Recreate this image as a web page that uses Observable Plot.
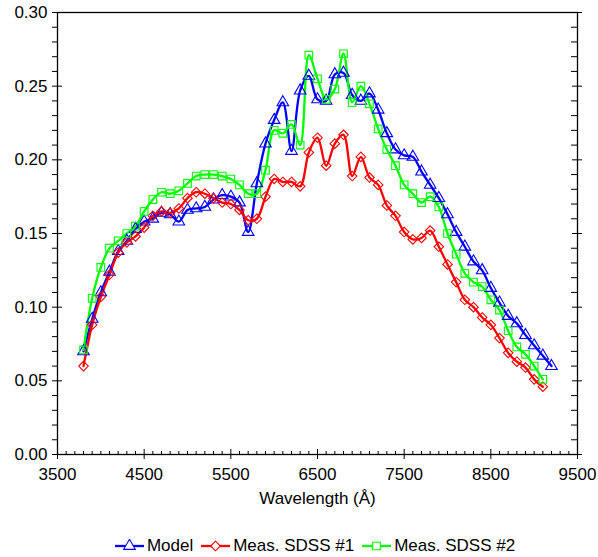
<!DOCTYPE html>
<html>
<head>
<meta charset="utf-8">
<script src="https://cdn.jsdelivr.net/npm/d3@7"></script>
<script src="https://cdn.jsdelivr.net/npm/@observablehq/plot@0.6"></script>
<style>
  html, body { margin: 0; padding: 0; background: #fff; }
  body { width: 598px; font-family: "Liberation Sans", Arial, sans-serif; }
  #legend { display: flex; justify-content: center; align-items: center; margin-top: 8px; padding-left: 32px; height: 20px; font-size: 17px; color: #000; }
  .item { display: flex; align-items: center; margin: 0 4px; }
  .item svg { margin-right: 3px; }
</style>
</head>
<body>
<div id="chart"></div>
<div id="legend"></div>
<script>
const modelWl = [3800,3900,4000,4100,4200,4300,4400,4500,4600,4700,4800,4900,5000,5100,5200,5300,5400,5500,5600,5700,5800,5900,6000,6100,6200,6300,6400,6500,6600,6700,6800,6900,7000,7100,7200,7300,7400,7500,7600,7700,7800,7900,8000,8100,8200,8300,8400,8500,8600,8700,8800,8900,9000,9100,9200];
const modelVal = [0.070,0.092,0.110,0.124,0.138,0.145,0.153,0.158,0.160,0.164,0.163,0.158,0.166,0.167,0.168,0.173,0.176,0.175,0.171,0.151,0.184,0.211,0.227,0.239,0.206,0.247,0.257,0.241,0.240,0.258,0.259,0.244,0.240,0.245,0.234,0.218,0.207,0.203,0.202,0.192,0.183,0.174,0.163,0.151,0.141,0.131,0.125,0.113,0.103,0.094,0.089,0.081,0.074,0.067,0.060];

const sdss1Wl = [3800,3900,4000,4100,4200,4300,4400,4500,4600,4700,4800,4900,5000,5100,5200,5300,5400,5500,5600,5700,5800,5900,6000,6100,6200,6300,6400,6500,6600,6700,6800,6900,7000,7100,7200,7300,7400,7500,7600,7700,7800,7900,8000,8100,8200,8300,8400,8500,8600,8700,8800,8900,9000,9100];
const sdss1Val = [0.060,0.088,0.107,0.122,0.137,0.144,0.148,0.154,0.162,0.165,0.164,0.167,0.174,0.178,0.177,0.174,0.171,0.170,0.166,0.159,0.160,0.175,0.187,0.185,0.185,0.182,0.205,0.215,0.196,0.211,0.217,0.189,0.202,0.188,0.183,0.169,0.162,0.151,0.146,0.147,0.152,0.141,0.129,0.117,0.105,0.100,0.093,0.088,0.079,0.069,0.063,0.059,0.051,0.046];

const sdss2Wl = [3800,3900,4000,4100,4200,4300,4400,4500,4600,4700,4800,4900,5000,5100,5200,5300,5400,5500,5600,5700,5800,5900,6000,6100,6200,6300,6400,6500,6600,6700,6800,6900,7000,7100,7200,7300,7400,7500,7600,7700,7800,7900,8000,8100,8200,8300,8400,8500,8600,8700,8800,8900,9000,9100];
const sdss2Val = [0.071,0.106,0.127,0.140,0.145,0.150,0.155,0.165,0.173,0.178,0.177,0.179,0.184,0.189,0.190,0.190,0.189,0.187,0.183,0.177,0.177,0.193,0.220,0.218,0.224,0.210,0.271,0.255,0.241,0.248,0.272,0.239,0.250,0.238,0.221,0.207,0.196,0.183,0.177,0.171,0.175,0.168,0.150,0.136,0.123,0.117,0.114,0.105,0.098,0.084,0.073,0.068,0.060,0.051];

const seriesNames = ["Model", "Meas. SDSS #1", "Meas. SDSS #2"];
const xTicks = [3500,4500,5500,6500,7500,8500,9500];
const yTicks = [0.00,0.05,0.10,0.15,0.20,0.25,0.30];
const xLabel = "Wavelength (Å)";

const colors = ["#0000ff", "#ff0000", "#00ff00"];
const symbols = ["triangle", "diamond2", "square"];

const toRows = (wl, vals) => wl.map((w, i) => ({w, v: vals[i]}));
const series = [toRows(modelWl, modelVal), toRows(sdss1Wl, sdss1Val), toRows(sdss2Wl, sdss2Val)];

const W = 598, H = 528;
const mL = 57, mR = 21, mT = 12, mB = 74;
const fw = W - mL - mR, fh = H - mT - mB;

const xMinor = d3.range(3500, 9501, 100).filter(d => !xTicks.includes(d));
const yMinor = d3.range(0, 31, 1).map(d => d / 100).filter(d => Math.round(d * 100) % 5 !== 0);

const marks = [];
series.forEach((rows, i) => {
  marks.push(Plot.line(rows, {x: "w", y: "v", stroke: colors[i], strokeWidth: 2.3, curve: "catmull-rom"}));
});
series.forEach((rows, i) => {
  marks.push(Plot.dot(rows, {x: "w", y: "v", stroke: colors[i], fill: "none", strokeWidth: 1.1, symbol: symbols[i], r: 4.3}));
});
marks.push(Plot.frame({stroke: "#000", strokeWidth: 1.3}));
marks.push(Plot.tickY(yTicks, {y: d => d, insetLeft: -5, insetRight: fw - 5, stroke: "#000"}));
marks.push(Plot.tickY(yMinor, {y: d => d, insetLeft: -5, insetRight: fw, stroke: "#000"}));
marks.push(Plot.tickY(yTicks, {y: d => d, insetLeft: fw - 5, insetRight: -5, stroke: "#000"}));
marks.push(Plot.tickY(yMinor, {y: d => d, insetLeft: fw - 6, insetRight: 0, stroke: "#000"}));
marks.push(Plot.tickX(xTicks, {x: d => d, insetTop: fh - 5, insetBottom: -5, stroke: "#000"}));
marks.push(Plot.tickX(xMinor, {x: d => d, insetTop: fh - 3, insetBottom: 0, stroke: "#000"}));
marks.push(Plot.axisY(yTicks, {anchor: "left", tickSize: 0, tickPadding: 10, tickFormat: d3.format(".2f"), label: null, fontSize: 17}));
marks.push(Plot.axisX(xTicks, {anchor: "bottom", tickSize: 0, tickPadding: 13, tickFormat: d => String(d), label: null, fontSize: 17}));
marks.push(Plot.text([xLabel], {text: d => d, frameAnchor: "bottom", dy: 37, lineAnchor: "top", fontSize: 17, fill: "#000"}));

const chart = Plot.plot({
  width: W, height: H,
  marginLeft: mL, marginRight: mR, marginTop: mT, marginBottom: mB,
  style: {fontFamily: "'Liberation Sans', Arial, sans-serif", fontSize: "17px", color: "#000", background: "#fff", overflow: "visible"},
  x: {domain: [3500, 9500], axis: null},
  y: {domain: [0, 0.30], axis: null},
  marks
});
document.getElementById("chart").appendChild(chart);

const legend = document.getElementById("legend");
const ns = "http://www.w3.org/2000/svg";
seriesNames.forEach((name, i) => {
  const item = document.createElement("div");
  item.className = "item";
  const sw = document.createElementNS(ns, "svg");
  sw.setAttribute("width", "29"); sw.setAttribute("height", "14");
  const ln = document.createElementNS(ns, "line");
  ln.setAttribute("x1", "0"); ln.setAttribute("x2", "29"); ln.setAttribute("y1", "7"); ln.setAttribute("y2", "7");
  ln.setAttribute("stroke", colors[i]); ln.setAttribute("stroke-width", "2.3");
  sw.appendChild(ln);
  const symType = {triangle: d3.symbolTriangle, diamond2: d3.symbolDiamond2, square: d3.symbolSquare}[symbols[i]];
  const p = document.createElementNS(ns, "path");
  p.setAttribute("d", d3.symbol(symType, 4.3 * 4.3 * Math.PI)());
  p.setAttribute("transform", "translate(14.5,7)");
  p.setAttribute("fill", "white"); p.setAttribute("stroke", colors[i]); p.setAttribute("stroke-width", "1.1");
  sw.appendChild(p);
  item.appendChild(sw);
  const t = document.createElement("span");
  t.textContent = name;
  item.appendChild(t);
  legend.appendChild(item);
});
</script>
</body>
</html>
